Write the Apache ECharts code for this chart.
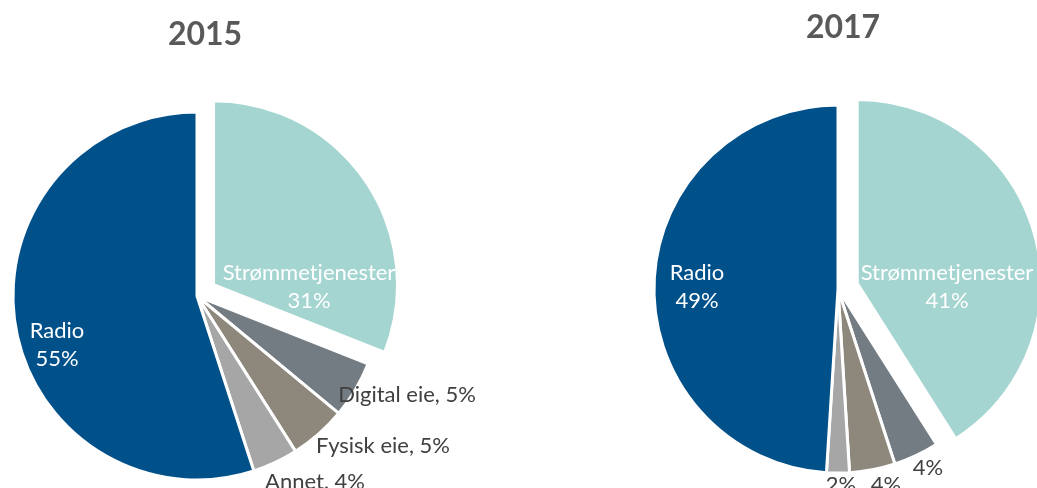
<!DOCTYPE html>
<html>
<head>
<meta charset="utf-8">
<title>Lytting etter kilde 2015 og 2017</title>
<script src="https://cdn.jsdelivr.net/npm/echarts@6/dist/echarts.min.js"></script>
<style>
  html, body { margin: 0; padding: 0; background: #ffffff; }
  #chart { width: 1037px; height: 488px; }
</style>
</head>
<body>
<div id="chart"></div>
<script>
// Slices in clockwise order from twelve o'clock
const categories = ['Strømmetjenester', 'Digital eie', 'Fysisk eie', 'Annet', 'Radio'];
const values2015 = [31, 5, 5, 4, 55];
const values2017 = [41, 4, 4, 2, 49];
const years = ['2015', '2017'];

const sliceColors = ['#a5d5d1', '#737b83', '#8e887c', '#a6a6a6', '#00508a'];
// Large slices carry their labels inside, small ones beside the pie
const insideLabel = [true, false, false, false, true];

const FONT = 'Lato, "Open Sans", sans-serif';
const RADIUS = 184;
const pieCenters = [[197, 296], [838, 289]];
// Label anchor offsets from each pie centre (px)
const labelOffsets = [
  [[112, -9], [210, 99], [186, 150], [118, 186], [-140, 49]],
  [[109, -2], [90, 179], [48, 196], [3, 196], [-141, -2]]
];

function buildData(values, yearIdx, forLabels) {
  return categories.map((name, i) => {
    const inside = insideLabel[i];
    let fmt;
    if (inside) fmt = '{b}\n{c}%';
    else fmt = yearIdx === 0 ? '{b}, {c}%' : '{c}%';
    const item = { name: name, value: values[i] };
    if (forLabels) {
      item.label = { formatter: fmt, color: inside ? '#ffffff' : '#404040' };
    } else {
      item.selected = i === 0;   // the streaming slice is pulled out
      item.itemStyle = { color: sliceColors[i] };
    }
    return item;
  });
}

const common = {
  type: 'pie',
  startAngle: 90,
  clockwise: true,
  animation: false,
  silent: true,
  avoidLabelOverlap: false,
  emphasis: { disabled: true },
  labelLine: { show: false }
};

// Sectors
function sliceSeries(values, idx) {
  return Object.assign({}, common, {
    name: years[idx],
    center: pieCenters[idx],
    radius: [0, RADIUS],
    selectedMode: 'single',
    selectedOffset: 20,
    itemStyle: { borderColor: '#ffffff', borderWidth: 3 },
    label: { show: false },
    data: buildData(values, idx, false)
  });
}

// Value labels, laid out around the same pie
function labelSeries(values, idx) {
  const c = pieCenters[idx];
  return Object.assign({}, common, {
    name: years[idx] + ' etiketter',
    center: c,
    radius: [0, RADIUS],
    z: 5,
    selectedMode: false,
    itemStyle: { color: 'rgba(0,0,0,0)', borderWidth: 0 },
    label: {
      show: true,
      position: 'inside',
      fontFamily: FONT,
      fontSize: 22,
      lineHeight: 28,
      align: 'center'
    },
    labelLayout: function (p) {
      const o = labelOffsets[idx][p.dataIndex];
      return {
        x: c[0] + o[0],
        y: c[1] + o[1],
        align: 'center',
        verticalAlign: 'middle',
        hideOverlap: false
      };
    },
    data: buildData(values, idx, true)
  });
}

const chart = echarts.init(document.getElementById('chart'), null, { renderer: 'canvas' });
chart.setOption({
  backgroundColor: '#ffffff',
  title: [
    {
      text: years[0], left: 200, top: 14, textAlign: 'center',
      textStyle: { fontFamily: FONT, fontWeight: 'bold', fontSize: 32, color: '#595959' }
    },
    {
      text: years[1], left: 838, top: 7, textAlign: 'center',
      textStyle: { fontFamily: FONT, fontWeight: 'bold', fontSize: 32, color: '#595959' }
    }
  ],
  series: [
    sliceSeries(values2015, 0), sliceSeries(values2017, 1),
    labelSeries(values2015, 0), labelSeries(values2017, 1)
  ]
});
</script>
</body>
</html>
